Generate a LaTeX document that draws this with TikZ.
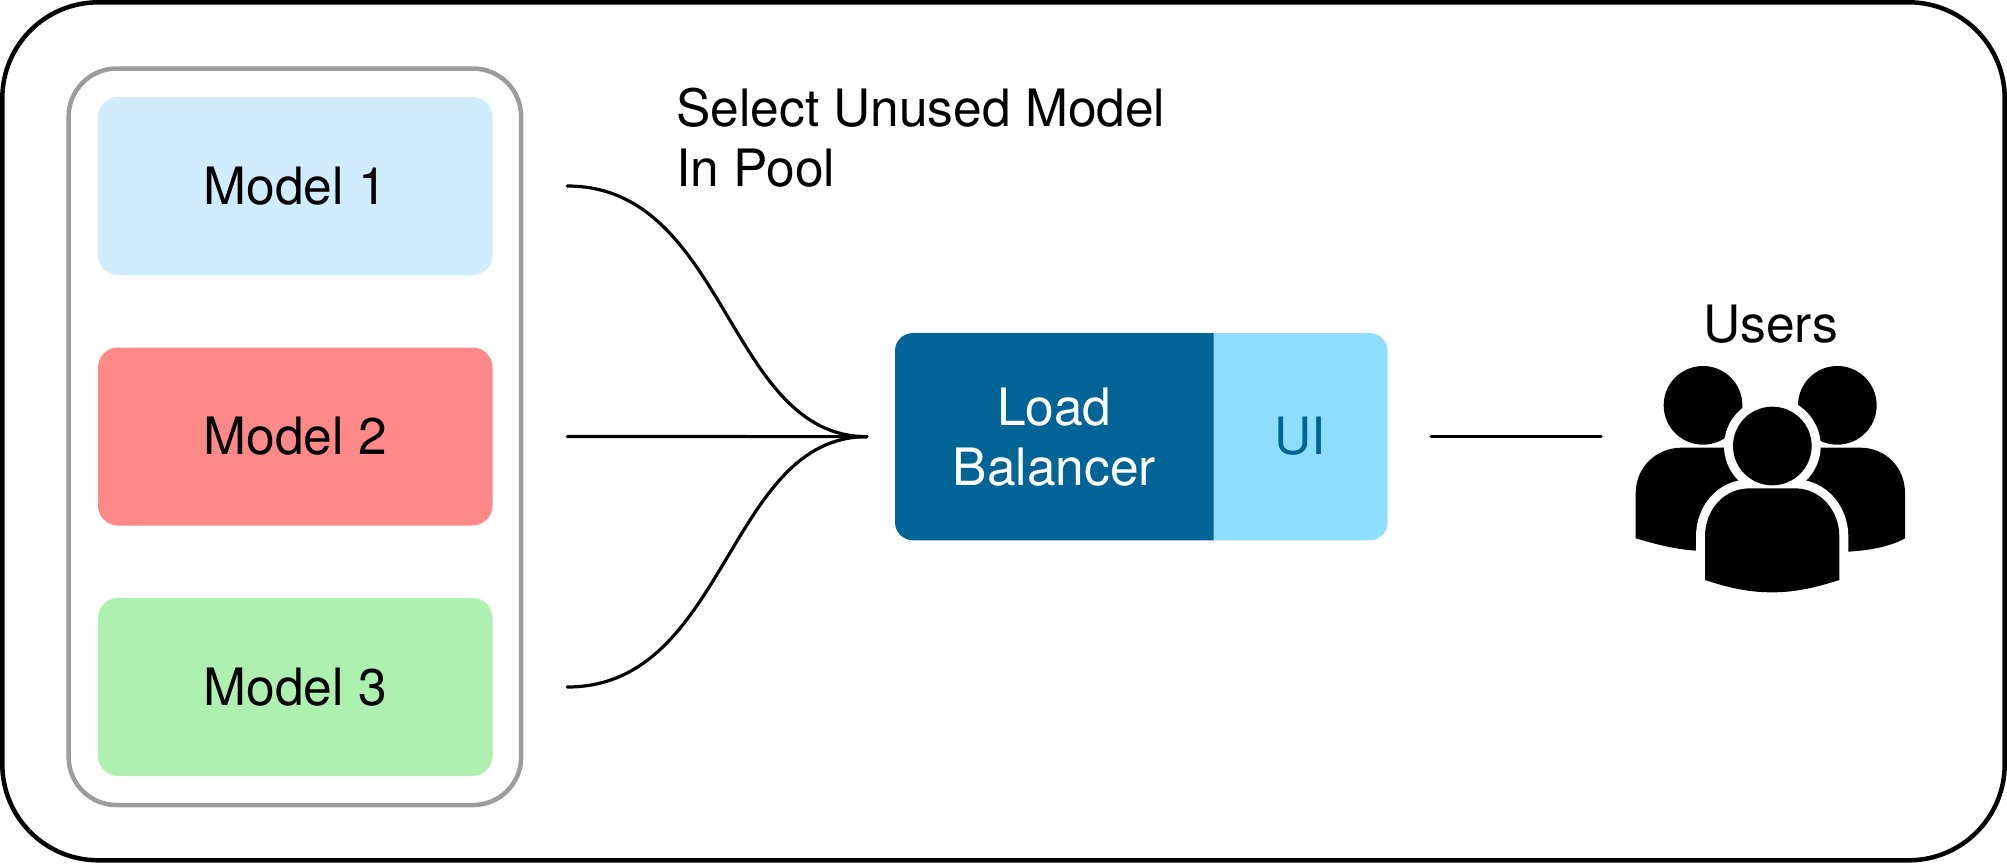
\documentclass[tikz,border=0pt]{standalone}
\usepackage{fontspec}
\setmainfont{TeX Gyre Heros}
\definecolor{frameline}{HTML}{000000}
\definecolor{poolline}{HTML}{9C9C9C}
\definecolor{modelA}{HTML}{D0ECFF}
\definecolor{modelB}{HTML}{FF8888}
\definecolor{modelC}{HTML}{AEF0B0}
\definecolor{lbdark}{HTML}{006496}
\definecolor{uilight}{HTML}{8EDFFF}
\tikzset{
  framebox/.style={draw=frameline,line width=4.5pt,rounded corners=96pt,minimum width=2002.4pt,minimum height=858pt,inner sep=0pt},
  poolbox/.style={draw=poolline,line width=4.5pt,rounded corners=48pt,minimum width=452.5pt,minimum height=736.5pt,inner sep=0pt},
  modelbox/.style={rounded corners=20pt,minimum width=394.5pt,minimum height=178pt,inner sep=0pt,text=black},
  labeltext/.style={font=\fontsize{51.5}{60}\selectfont,align=left,inner sep=0pt},
  centertext/.style={font=\fontsize{51.5}{60}\selectfont,align=center,inner sep=0pt},
  wire/.style={draw=black,line width=3.2pt,line cap=round},
  person/.style={fill=black,draw=none},
}
\begin{document}
\begin{tikzpicture}[x=1pt,y=-1pt,every node/.append style={font=\fontsize{51.5}{60}\selectfont}]
\useasboundingbox (0,0) rectangle (2007,863);
\fill[white] (0,0) rectangle (2007,863);
\node[framebox] (frame) at (1003.5,431.3) {};
\node[poolbox] (pool) at (294.9,436.8) {};
\node[modelbox,fill=modelA] (m1) at (295.25,186) {Model 1};
\node[modelbox,fill=modelB] (m2) at (295.25,436.5) {Model 2};
\node[modelbox,fill=modelC] (m3) at (295.25,687) {Model 3};

% load balancer with UI
\fill[uilight] (1213,333) [rounded corners=18pt] -- (1387.5,333) -- (1387.5,540.3) [sharp corners] -- (1213,540.3) -- cycle;
\fill[lbdark] (1213.6,333) [rounded corners=18pt] -- (895,333) -- (895,540.3) [sharp corners] -- (1213.6,540.3) -- cycle;
\node[centertext,text=white,minimum width=318.6pt,minimum height=207.3pt] (lb) at (1054.3,436.65) {Load\\Balancer};
\node[centertext,text=lbdark,minimum width=173.9pt,minimum height=207.3pt] (ui) at (1300.5,436.65) {UI};

% connectors
\coordinate (m1out) at ([xshift=74.5pt]m1.east);
\coordinate (m2out) at ([xshift=74.5pt]m2.east);
\coordinate (m3out) at ([xshift=74.5pt]m3.east);
\coordinate (lbin) at ([xshift=-28pt]lb.west);
\coordinate (uiout) at ([xshift=43.5pt]ui.east);
\coordinate (usersin) at (1601,436.65);
\draw[wire] (m1out) .. controls +(160,0) and (727,436.65) .. (lbin);
\draw[wire] (m2out) -- (lbin);
\draw[wire] (m3out) .. controls +(160,0) and (727,436.65) .. (lbin);
\draw[wire] (uiout) -- (usersin);

\node[labeltext,anchor=base west] (sel) at (676,186) {Select Unused Model\\In Pool};
\node[centertext,anchor=base] (users) at (1770.7,342.7) {Users};

% users icon
\begin{scope}[shift={(1580,280)},x=0.33333pt,y=-0.33333pt]
  \fill[person] (369,376) circle[radius=118];
  \fill[person] (772,376) circle[radius=118];
  \fill[person] (167,775) -- (167,640) .. controls (167,560) and (230,503) .. (305,503) -- (480,503) -- (480,812) -- (348,812) .. controls (285,808) and (225,792) .. (167,775) -- cycle;
  \fill[person] (975,775) -- (975,640) .. controls (975,560) and (915,503) .. (840,503) -- (670,503) -- (670,815) -- (805,815) .. controls (870,811) and (930,800) .. (975,775) -- cycle;
  % white halos first, then the black centre figure on top of both
  \draw[white,line width=18pt] (577,498) circle[radius=118];
  \draw[white,line width=18pt] (375,900) -- (375,770) .. controls (375,690) and (430,625) .. (510,625) -- (645,625) .. controls (720,625) and (778,690) .. (778,770) -- (778,900) .. controls (700,925) and (640,937) .. (577,937) .. controls (510,937) and (450,925) .. (375,900) -- cycle;
  \fill[person] (577,498) circle[radius=118];
  \fill[person] (375,900) -- (375,770) .. controls (375,690) and (430,625) .. (510,625) -- (645,625) .. controls (720,625) and (778,690) .. (778,770) -- (778,900) .. controls (700,925) and (640,937) .. (577,937) .. controls (510,937) and (450,925) .. (375,900) -- cycle;
\end{scope}
\end{tikzpicture}
\end{document}
